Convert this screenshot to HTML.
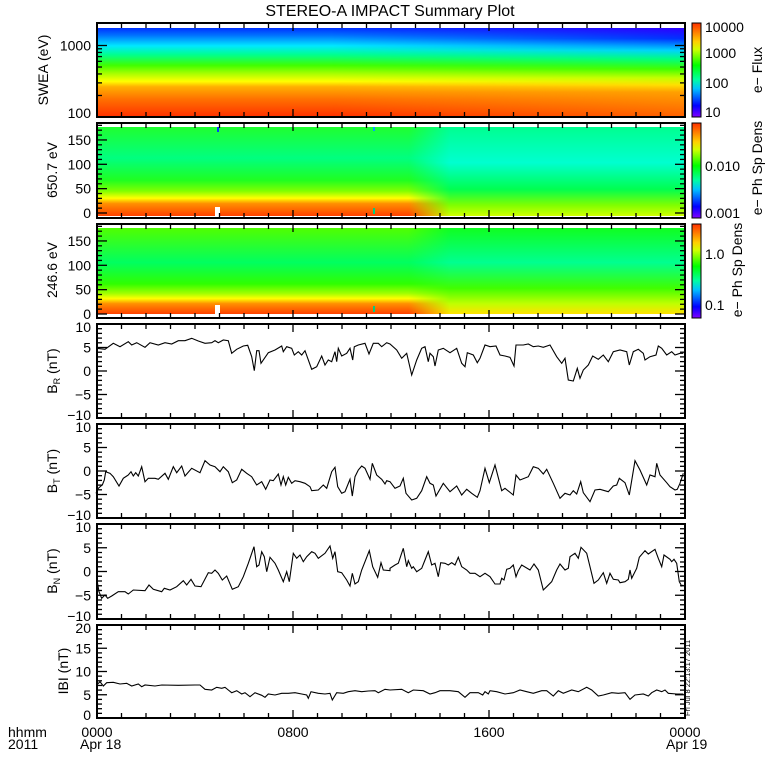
<!DOCTYPE html>
<html><head><meta charset="utf-8"><style>
html,body{margin:0;padding:0;background:#fff;width:780px;height:780px;overflow:hidden}
svg{display:block}
text{font-family:"Liberation Sans",sans-serif;fill:#000}
</style></head><body>
<svg id="s" width="780" height="780" xmlns="http://www.w3.org/2000/svg">
<defs>
<linearGradient id="g1" x1="0" y1="0" x2="0" y2="1">
<stop offset="0" stop-color="#0030ff"/><stop offset="0.08" stop-color="#0070ff"/>
<stop offset="0.2" stop-color="#00e8ff"/><stop offset="0.3" stop-color="#00ff90"/>
<stop offset="0.42" stop-color="#40ff00"/><stop offset="0.52" stop-color="#b0ff00"/>
<stop offset="0.6" stop-color="#ffff00"/><stop offset="0.66" stop-color="#ffb000"/>
<stop offset="0.8" stop-color="#ff7000"/><stop offset="1" stop-color="#ff3000"/>
</linearGradient>
<linearGradient id="g1r" x1="0" y1="0" x2="0" y2="1">
<stop offset="0" stop-color="#3000ff"/><stop offset="0.12" stop-color="#0030ff"/>
<stop offset="0.25" stop-color="#00d0ff"/><stop offset="0.35" stop-color="#00ff80"/>
<stop offset="0.46" stop-color="#40ff00"/><stop offset="0.56" stop-color="#c0ff00"/>
<stop offset="0.64" stop-color="#ffe000"/><stop offset="0.72" stop-color="#ffa000"/>
<stop offset="1" stop-color="#ff6000"/>
</linearGradient>
<linearGradient id="g2" x1="0" y1="0" x2="0" y2="1">
<stop offset="0" stop-color="#20ff30"/><stop offset="0.35" stop-color="#00ff80"/>
<stop offset="0.6" stop-color="#20ff20"/><stop offset="0.72" stop-color="#80ff00"/>
<stop offset="0.8" stop-color="#ffff00"/><stop offset="0.86" stop-color="#ff9000"/>
<stop offset="1" stop-color="#ff4000"/>
</linearGradient>
<linearGradient id="g2r" x1="0" y1="0" x2="0" y2="1">
<stop offset="0" stop-color="#00ff90"/><stop offset="0.4" stop-color="#00ffd0"/>
<stop offset="0.7" stop-color="#00ff50"/><stop offset="0.88" stop-color="#80ff00"/>
<stop offset="1" stop-color="#d0ff00"/>
</linearGradient>
<linearGradient id="g3" x1="0" y1="0" x2="0" y2="1">
<stop offset="0" stop-color="#50ff00"/><stop offset="0.4" stop-color="#00ff60"/>
<stop offset="0.65" stop-color="#30ff00"/><stop offset="0.76" stop-color="#a0ff00"/>
<stop offset="0.82" stop-color="#ffff00"/><stop offset="0.88" stop-color="#ff9000"/>
<stop offset="1" stop-color="#ff4000"/>
</linearGradient>
<linearGradient id="g3r" x1="0" y1="0" x2="0" y2="1">
<stop offset="0" stop-color="#10ff20"/><stop offset="0.4" stop-color="#00ff90"/>
<stop offset="0.7" stop-color="#40ff00"/><stop offset="0.88" stop-color="#c0ff00"/>
<stop offset="1" stop-color="#ffe000"/>
</linearGradient>
<linearGradient id="cb" x1="0" y1="1" x2="0" y2="0">
<stop offset="0" stop-color="#8000ff"/><stop offset="0.12" stop-color="#0000ff"/>
<stop offset="0.3" stop-color="#00c0ff"/><stop offset="0.4" stop-color="#00ffa0"/>
<stop offset="0.55" stop-color="#00ff00"/><stop offset="0.72" stop-color="#d0ff00"/>
<stop offset="0.8" stop-color="#ffd000"/><stop offset="0.9" stop-color="#ff8000"/>
<stop offset="1" stop-color="#ff3000"/>
</linearGradient>
<linearGradient id="mh" x1="0" y1="0" x2="1" y2="0">
<stop offset="0" stop-color="#000"/><stop offset="0.53" stop-color="#000"/>
<stop offset="0.6" stop-color="#fff"/><stop offset="1" stop-color="#fff"/>
</linearGradient>
<mask id="m" maskContentUnits="objectBoundingBox"><rect width="1" height="1" fill="url(#mh)"/></mask>
<linearGradient id="mh1" x1="0" y1="0" x2="1" y2="0">
<stop offset="0" stop-color="#000"/><stop offset="0.4" stop-color="#000"/>
<stop offset="1" stop-color="#fff"/>
</linearGradient>
<mask id="m1" maskContentUnits="objectBoundingBox"><rect width="1" height="1" fill="url(#mh1)"/></mask>
</defs>
<text x="390" y="16" font-size="16" text-anchor="middle">STEREO-A IMPACT Summary Plot</text>
<rect x="97" y="28" width="588" height="89" fill="url(#g1)"/>
<rect x="97" y="28" width="588" height="89" fill="url(#g1r)" mask="url(#m1)"/>
<rect x="97" y="127" width="588" height="89" fill="url(#g2)"/>
<rect x="97" y="127" width="588" height="89" fill="url(#g2r)" mask="url(#m)"/>
<rect x="97" y="228" width="588" height="86" fill="url(#g3)"/>
<rect x="97" y="228" width="588" height="86" fill="url(#g3r)" mask="url(#m)"/>
<rect x="215" y="207" width="5" height="9" fill="#fff"/>
<rect x="215" y="305" width="5" height="9" fill="#fff"/>
<rect x="217" y="127" width="2" height="5" fill="#0040ff"/>
<rect x="373" y="127" width="2" height="4" fill="#00a0ff"/>
<rect x="373" y="208" width="2" height="6" fill="#00d080"/>
<rect x="373" y="306" width="2" height="6" fill="#00d080"/>
<g id="g"></g>
<rect x="692" y="23" width="9" height="94" fill="url(#cb)" stroke="#000"/>
<rect x="692" y="123" width="9" height="95" fill="url(#cb)" stroke="#000"/>
<rect x="692" y="224" width="9" height="94" fill="url(#cb)" stroke="#000"/>
<g font-size="14">
<text x="705" y="32">10000</text><text x="705" y="58">1000</text><text x="705" y="88">100</text><text x="705" y="117">10</text>
<text x="705" y="171">0.010</text><text x="705" y="218">0.001</text>
<text x="705" y="259">1.0</text><text x="705" y="310">0.1</text>
<text transform="translate(762,70) rotate(-90)" text-anchor="middle">e− Flux</text>
<text transform="translate(762,168) rotate(-90)" text-anchor="middle">e− Ph Sp Dens</text>
<text transform="translate(742,270) rotate(-90)" text-anchor="middle">e− Ph Sp Dens</text>
<text transform="translate(48,70) rotate(-90)" text-anchor="middle">SWEA (eV)</text>
<text transform="translate(57,170) rotate(-90)" text-anchor="middle">650.7 eV</text>
<text transform="translate(57,270) rotate(-90)" text-anchor="middle">246.6 eV</text>
<text transform="translate(57,371) rotate(-90)" text-anchor="middle">B<tspan font-size="9" dy="3">R</tspan><tspan dy="-3"> (nT)</tspan></text>
<text transform="translate(57,471) rotate(-90)" text-anchor="middle">B<tspan font-size="9" dy="3">T</tspan><tspan dy="-3"> (nT)</tspan></text>
<text transform="translate(57,571) rotate(-90)" text-anchor="middle">B<tspan font-size="9" dy="3">N</tspan><tspan dy="-3"> (nT)</tspan></text>
<text transform="translate(68,671) rotate(-90)" text-anchor="middle">IBI (nT)</text>
<text x="8" y="737">hhmm</text><text x="8" y="749">2011</text>
<text x="97" y="737" text-anchor="middle">0000</text><text x="80" y="749">Apr 18</text>
<text x="293" y="737" text-anchor="middle">0800</text>
<text x="489" y="737" text-anchor="middle">1600</text>
<text x="685" y="737" text-anchor="middle">0000</text><text x="666" y="749">Apr 19</text>
</g>
<text transform="translate(690,716) rotate(-90)" font-size="7.5">Fri Jul  8 22:13:17 2011</text>
</svg>
<script>
var NS="http://www.w3.org/2000/svg",G=document.getElementById("g");
function el(n,a){var e=document.createElementNS(NS,n);for(var k in a)e.setAttribute(k,a[k]);G.appendChild(e);return e;}
function ln(x1,y1,x2,y2){el("line",{x1:x1,y1:y1,x2:x2,y2:y2,stroke:"#000","stroke-width":1.3});}
function txt(x,y,s){var t=el("text",{x:x,y:y,"font-size":14,"text-anchor":"end"});t.textContent=s;}
var L=97,R=685;
function frame(t,b){
 el("rect",{x:L,y:t,width:R-L,height:b-t,fill:"none",stroke:"#000","stroke-width":2});
 for(var h=1;h<24;h++){var x=L+(R-L)*h/24,len=(h%8==0)?8:5;ln(x,t,x,t+len);ln(x,b,x,b-len);}
}
function yt(y,maj,lab,dy){var l=maj?10:5;ln(L,y,L+l,y);ln(R,y,R-l,y);if(lab!=null)txt(L-6,y+5+(dy||0),lab);}
frame(23,117);
for(var d=0;d<2;d++)for(var k=1;k<10;k++){var v=Math.pow(10,d)*k;var y=117-71.5*Math.log10(v);if(y<24)continue;yt(y,k==1,k==1?(d==0?"100":"1000"):null,d==0?-4:0);}
[[123,218,213],[224,318,314]].forEach(function(p){frame(p[0],p[1]);for(var a=0;a<=180;a+=10){var y=p[2]-a*0.487;yt(y,a%50==0,a%50==0?String(a):null);}});
function lp(t,b,mn,mx){frame(t,b);var s=(b-t)/(mx-mn);for(var v=mn;v<=mx;v++){var y=b-(v-mn)*s;yt(y,v%5==0,v%5==0?(v<0?"\u2212"+(-v):String(v)):null,v==mx?3:(v==mn?-3:0));}}
lp(324,418,-10,10);lp(424,518,-10,10);lp(524,619,-10,10);lp(625,718,0,20);
function pl(a,b,yo){var pts=[];for(var i=0;i<a.length;i+=2)pts.push((95+a[i]/3).toFixed(1)+","+(yo+a[i+1]/3).toFixed(1));for(var i=0;i<b.length;i+=2)pts.push((390+b[i]/3).toFixed(1)+","+(yo+b[i+1]/3).toFixed(1));el("polyline",{points:pts.join(" "),fill:"none",stroke:"#000","stroke-width":1.1});}
pl([5,85,30,88,55,70,75,80,100,65,110,75,125,68,150,82,165,68,190,75,210,68,230,72,250,62,270,62,290,55,310,63,330,70,350,68,360,62,370,68,385,60,400,62,410,100,425,88,445,78,458,76,470,110,478,152,485,92,492,92,498,130,520,98,540,90,560,78,565,95,575,80,590,85,598,105,610,95,620,105,630,92,650,148,665,140,680,108,690,135,700,120,710,125,720,95,725,125,730,85,740,108,755,100,765,85,773,120,778,80,790,75,810,70,822,102,835,70,850,70,860,80,875,68,885,72],
[0,72,20,90,35,115,50,100,65,165,80,120,95,85,105,80,115,125,120,100,130,110,135,138,145,90,160,85,180,98,200,85,215,130,225,140,232,98,250,105,262,128,270,115,285,75,300,80,318,78,330,105,345,108,360,112,372,138,378,75,400,75,415,72,430,80,445,78,460,82,480,75,500,110,515,130,525,115,535,180,550,183,562,145,570,175,580,150,595,135,608,108,625,118,640,105,655,125,670,95,690,90,710,95,718,135,730,95,745,88,760,100,765,120,780,110,798,105,805,78,815,85,830,105,845,95,855,105,870,100,880,100],320);
pl([3,520,10,505,18,498,22,495,28,480,32,455,45,460,55,470,72,498,85,475,100,465,108,455,115,468,122,458,130,468,140,440,150,485,160,475,180,475,190,478,210,460,220,478,235,440,245,458,260,438,270,468,290,445,315,458,330,422,345,435,360,440,375,455,385,440,400,455,412,488,425,480,440,448,455,460,470,470,485,495,500,485,512,508,525,480,535,482,550,462,558,495,565,470,572,495,580,472,590,490,600,482,615,485,630,490,645,500,650,512,670,510,685,495,695,505,710,455,720,442,728,500,740,520,750,515,765,478,772,528,780,470,790,450,800,438,810,445,825,478,832,430,845,465,860,478,870,492,875,482,885,485],
[0,485,15,505,30,498,40,475,48,520,65,540,80,535,95,512,110,470,120,490,130,495,138,528,160,490,180,515,200,498,215,525,230,508,245,520,262,532,270,512,285,445,298,488,315,435,335,512,345,505,370,525,378,465,390,480,415,470,430,440,445,445,460,462,470,448,490,490,510,535,525,520,540,525,550,512,560,522,572,485,580,518,600,545,615,510,630,508,655,515,670,498,680,495,688,475,705,488,718,525,735,422,750,450,770,495,780,465,795,470,800,430,810,465,830,488,840,500,855,510,862,508,870,490,880,460],320);
pl([5,175,12,215,20,235,30,225,38,235,50,228,70,215,90,215,100,222,115,210,150,212,162,195,175,208,200,215,208,205,225,210,245,200,265,182,275,195,288,178,300,198,318,200,340,158,350,160,360,150,370,160,382,180,395,168,412,208,430,200,445,170,460,130,477,80,485,140,492,135,500,95,508,110,515,155,525,112,540,130,550,150,565,185,575,155,583,185,595,100,605,115,615,105,625,125,635,110,650,95,660,100,670,115,690,100,705,78,713,115,720,95,728,155,740,158,755,180,765,198,772,160,780,192,790,185,800,150,810,125,823,92,833,140,848,172,858,128,865,150,885,152],
[0,145,15,135,25,130,40,85,50,140,55,122,65,145,70,140,80,155,95,145,105,120,115,95,125,135,135,130,145,170,152,128,165,130,175,135,185,128,195,135,205,112,215,140,230,150,240,160,255,160,270,170,285,160,300,170,315,192,330,192,335,175,342,180,350,148,360,145,370,135,378,170,385,152,395,135,420,150,432,132,445,150,460,210,470,200,485,185,500,150,510,132,525,150,535,145,540,110,555,100,565,115,573,82,590,100,600,140,612,190,625,180,640,158,650,190,660,160,670,178,685,180,690,188,705,185,715,178,720,150,725,175,740,145,748,112,765,92,775,102,795,88,805,115,815,140,822,105,840,118,845,125,852,118,860,130,868,185,875,198,880,195],520);
pl([5,495,15,485,25,498,35,488,55,487,75,492,95,490,110,498,130,492,140,500,150,495,180,498,200,495,250,496,300,495,315,495,330,508,350,510,365,502,380,505,390,502,400,510,410,518,425,512,440,522,450,518,465,530,480,518,500,526,510,532,520,522,540,525,560,520,580,520,600,518,620,522,635,525,640,535,648,515,670,520,690,522,705,520,712,540,725,518,745,520,760,515,780,512,800,515,820,513,840,512,850,518,870,508,885,510],
[0,510,35,508,55,518,70,510,100,512,120,522,135,518,150,512,180,512,205,515,225,532,240,518,265,518,278,525,285,515,295,522,300,512,320,515,345,522,370,518,390,510,410,515,430,520,455,512,470,512,490,528,505,512,520,520,545,510,565,515,590,502,605,510,625,528,640,525,665,518,685,520,705,518,720,538,735,525,760,522,775,528,785,518,800,510,815,515,825,510,835,520,860,522,880,522],520);
</script>
</body></html>
